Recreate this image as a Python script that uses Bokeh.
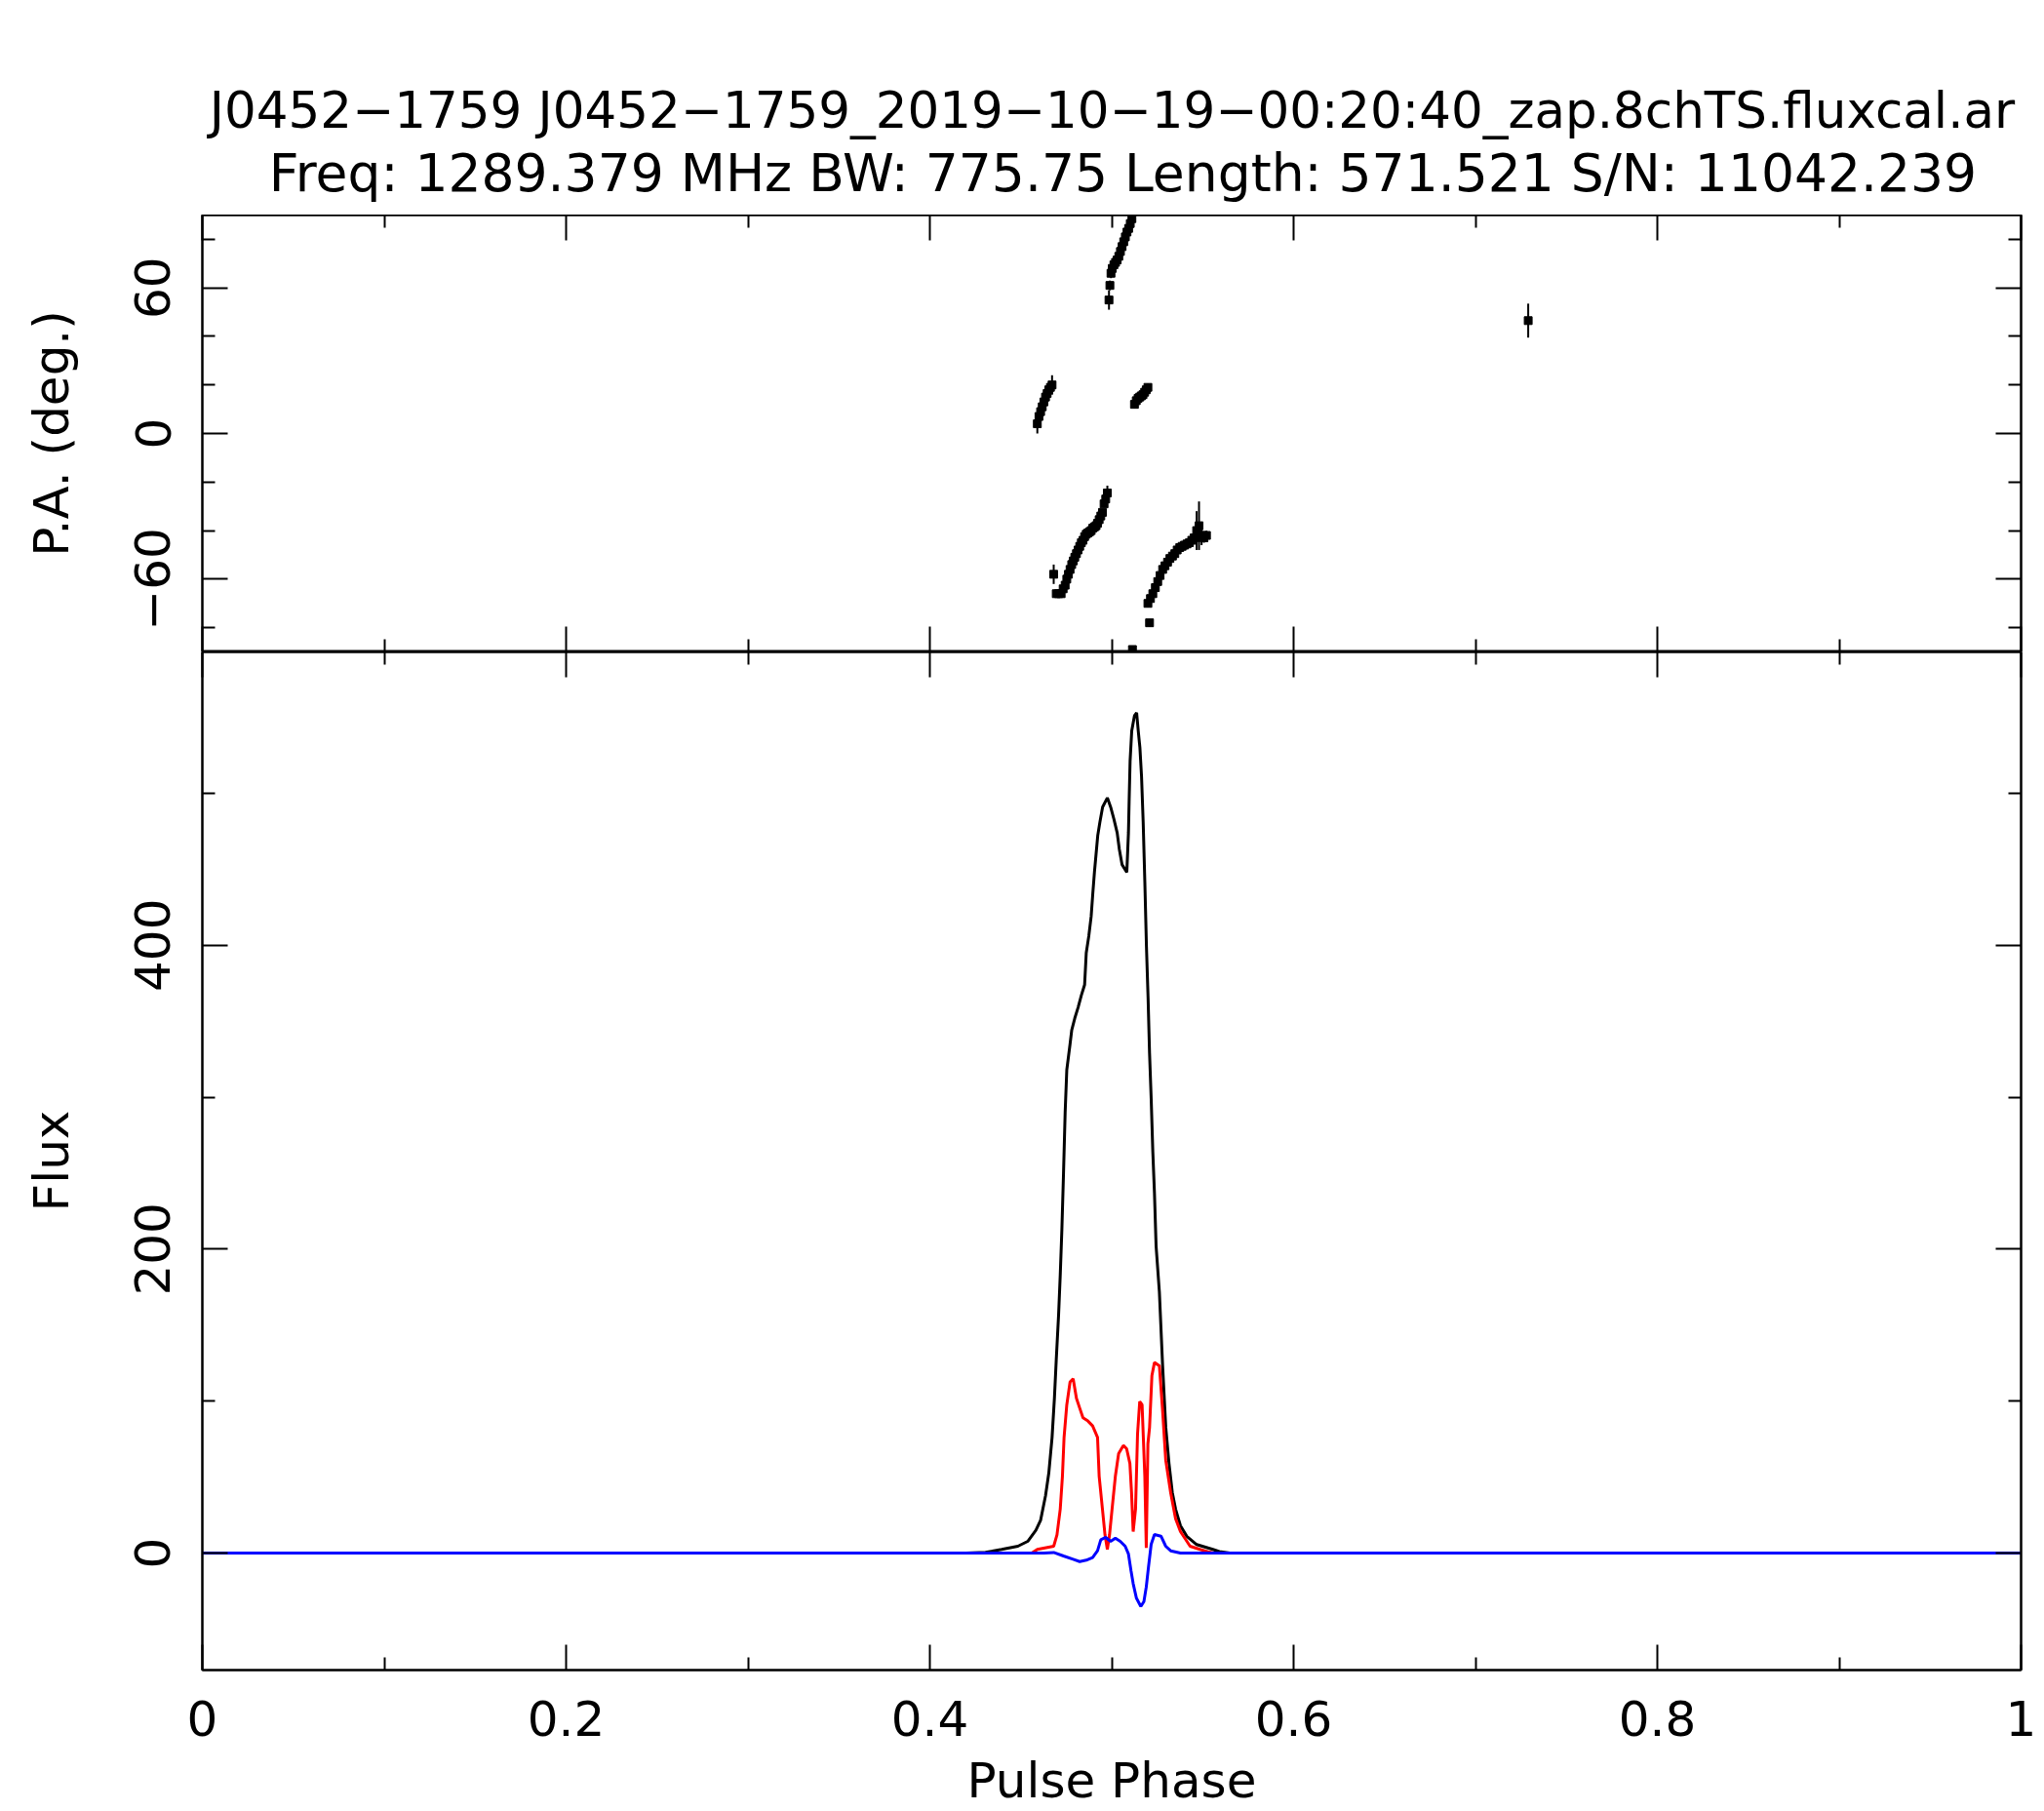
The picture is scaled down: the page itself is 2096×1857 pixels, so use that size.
from bokeh.plotting import figure
from bokeh.layouts import column
from bokeh.models import LinearAxis, FixedTicker, CustomJSTickFormatter, Range1d, ColumnDataSource, Label
from bokeh.embed import file_html
from bokeh.resources import INLINE

FONT = "DejaVu Sans"

# ---------------- data ----------------
title_lines = [
    "J0452\u22121759 J0452\u22121759_2019\u221210\u221219\u221200:20:40_zap.8chTS.fluxcal.ar",
    "Freq: 1289.379 MHz BW: 775.75 Length: 571.521 S/N: 11042.239",
]
x_label = "Pulse Phase"
flux_label = "Flux"
pa_label = "P.A. (deg.)"

x_major = [0, 0.2, 0.4, 0.6, 0.8, 1]
x_minor = [0.1, 0.3, 0.5, 0.7, 0.9]
pa_major = [-60, 0, 60]
pa_minor = [-80, -40, -20, 20, 40, 80]
flux_major = [0, 200, 400]
flux_minor = [100, 300, 500]

# Total intensity (black)
phase_I = [0.0, 0.4200, 0.4306, 0.4395, 0.4484, 0.4538, 0.4583, 0.4609, 0.4636, 0.4654, 0.4672,
           0.4685, 0.4695, 0.4708, 0.4717, 0.4726, 0.4735, 0.4744, 0.4753, 0.4771, 0.4780,
           0.4797, 0.4815, 0.4833, 0.4851, 0.4860, 0.4874, 0.4887, 0.4896, 0.4905, 0.4914,
           0.4923, 0.4935, 0.4950, 0.4976, 0.4994, 0.5012, 0.5030, 0.5042, 0.5057, 0.5083,
           0.5092, 0.5096, 0.5101, 0.5110, 0.5125, 0.5137, 0.5146, 0.5155, 0.5164, 0.5173,
           0.5182, 0.5191, 0.5200, 0.5208, 0.5217, 0.5226, 0.5235, 0.5244, 0.5262, 0.5280,
           0.5297, 0.5315, 0.5333, 0.5351, 0.5378, 0.5413, 0.5467, 0.5556, 0.5592, 0.5650, 1.0]
flux_I = [0.0, 0.0, 0.5, 2.4, 4.5, 7.7, 15.0, 21.6, 37.7, 52.6, 76.0,
          102.0, 127.0, 157.0, 183.0, 213.0, 250.0, 290.0, 318.0, 335.0, 344.0,
          352.0, 359.0, 367.0, 374.0, 395.0, 406.0, 419.0, 434.0, 448.0, 460.0,
          472.0, 481.0, 491.0, 497.0, 491.0, 483.0, 474.0, 463.0, 453.0, 448.0,
          474.0, 496.0, 521.0, 541.0, 551.0, 553.0, 541.0, 530.0, 511.0, 481.0,
          442.0, 399.0, 365.0, 329.0, 299.0, 264.0, 237.0, 202.0, 172.0, 123.0,
          83.0, 59.0, 40.0, 29.0, 18.0, 11.0, 5.6, 2.4, 1.0, 0.0, 0.0]

# Linear polarisation (red)
phase_L = [0.0, 0.4560, 0.4591, 0.4681, 0.4699, 0.4717, 0.4729, 0.4738, 0.4753, 0.4771, 0.4788,
           0.4806, 0.4824, 0.4842, 0.4869, 0.4895, 0.4922, 0.4931, 0.4949, 0.4963, 0.4976,
           0.4988, 0.5002, 0.5020, 0.5038, 0.5064, 0.5082, 0.5100, 0.5109, 0.5118, 0.5131,
           0.5142, 0.5154, 0.5167, 0.5182, 0.5190, 0.5199, 0.5208, 0.5221, 0.5235, 0.5262,
           0.5280, 0.5297, 0.5324, 0.5351, 0.5378, 0.5431, 0.5485, 0.5538, 0.5560, 1.0]
flux_L = [0.0, 0.0, 2.4, 4.5, 12.0, 29.0, 50.5, 76.2, 97.6, 112.6, 114.7,
          101.9, 95.4, 89.0, 86.9, 83.7, 76.2, 50.5, 29.0, 12.0, 2.4,
          12.0, 29.0, 50.5, 65.5, 70.8, 68.7, 59.0, 39.8, 14.1, 29.0,
          78.3, 99.7, 97.6, 50.5, 3.4, 71.9, 82.6, 116.8, 125.4, 123.3,
          93.3, 61.2, 39.8, 22.7, 14.1, 4.5, 2.4, 0.6, 0.0, 0.0]

# Circular polarisation (blue)
phase_V = [0.0, 0.4627, 0.4681, 0.4735, 0.4788, 0.4824, 0.4860, 0.4895, 0.4922, 0.4940,
           0.4967, 0.4994, 0.5020, 0.5047, 0.5074, 0.5092, 0.5106, 0.5118, 0.5136, 0.5160,
           0.5177, 0.5190, 0.5202, 0.5217, 0.5235, 0.5271, 0.5297, 0.5324, 0.5378, 1.0]
flux_V = [0.0, 0.0, 0.4, -1.9, -4.1, -5.6, -4.7, -3.0, 1.5, 8.8,
          10.3, 7.7, 9.8, 7.7, 4.5, -0.6, -11.6, -20.1, -29.7, -35.1,
          -31.9, -22.3, -9.4, 5.8, 12.2, 11.1, 4.5, 1.5, 0.0, 0.0]

# Position angle points
phase_PA = [0.4985, 0.4990, 0.4996, 0.5003, 0.5012, 0.5021, 0.5030, 0.5039, 0.5048, 0.5057,
            0.5066, 0.5075, 0.5084, 0.5093, 0.5102, 0.5111,
            0.4591, 0.4600, 0.4609, 0.4618, 0.4627, 0.4636, 0.4645, 0.4654, 0.4663, 0.4672,
            0.5125, 0.5135, 0.5145, 0.5154, 0.5163, 0.5172, 0.5181, 0.5190, 0.5199,
            0.4681, 0.4695, 0.4708, 0.4722, 0.4733, 0.4744, 0.4753, 0.4762, 0.4771, 0.4780,
            0.4789, 0.4797, 0.4806, 0.4815, 0.4824, 0.4833, 0.4842, 0.4851, 0.4860, 0.4869,
            0.4878, 0.4887, 0.4896, 0.4905, 0.4914, 0.4922, 0.4931, 0.4940, 0.4949, 0.4958,
            0.4967, 0.4976,
            0.5114, 0.5208, 0.5199, 0.5213, 0.5226, 0.5240, 0.5253, 0.5266, 0.5280, 0.5293,
            0.5307, 0.5320, 0.5334, 0.5347, 0.5360, 0.5374, 0.5387, 0.5400, 0.5414, 0.5427,
            0.5440, 0.5453, 0.5467, 0.5480, 0.5494, 0.5507, 0.5521,
            0.7290]
pa_deg = [55.0, 61.0, 66.0, 68.0, 69.5, 70.5, 71.5, 73.0, 75.0, 77.0,
          79.0, 81.0, 83.0, 84.5, 86.5, 88.5,
          4.0, 7.0, 9.0, 11.0, 13.0, 15.0, 16.5, 18.0, 19.0, 20.0,
          12.0, 13.5, 14.5, 15.0, 15.5, 16.0, 17.0, 18.0, 19.0,
          -58.0, -66.0, -66.0, -66.0, -64.0, -62.5, -60.0, -58.0, -56.0, -54.0,
          -52.5, -51.0, -49.5, -48.0, -46.5, -45.0, -44.0, -42.5, -41.5, -41.0,
          -40.5, -40.0, -39.0, -38.5, -38.0, -37.0, -35.5, -34.0, -32.5, -29.0,
          -27.0, -24.5,
          -89.0, -78.0, -70.0, -68.0, -66.0, -63.5, -61.0, -58.5, -56.0, -54.5,
          -53.0, -51.5, -50.5, -49.5, -48.0, -47.0, -46.5, -46.0, -45.5, -45.0,
          -44.0, -43.0, -40.0, -38.0, -42.0, -43.0, -42.0,
          46.5]
pa_err = [4.0, 2.0, 2.0, 1.5, 1.5, 1.5, 1.5, 1.5, 1.5, 1.5,
          1.5, 1.5, 1.5, 1.5, 1.5, 1.5,
          4.0, 2.5, 2.0, 2.0, 2.0, 2.0, 2.0, 2.0, 2.0, 4.0,
          1.5, 1.5, 1.5, 1.5, 1.5, 1.5, 1.5, 1.5, 1.5,
          4.0, 1.5, 1.5, 1.5, 1.5, 1.5, 1.5, 1.5, 1.5, 1.5,
          1.5, 1.5, 1.5, 1.5, 1.5, 1.5, 1.5, 1.5, 1.5, 1.5,
          1.5, 1.5, 1.5, 1.5, 1.5, 1.5, 1.5, 1.5, 1.5, 1.5,
          1.5, 3.0,
          1.5, 1.5, 1.5, 1.5, 1.5, 1.5, 1.5, 1.5, 1.5, 1.5,
          1.5, 1.5, 1.5, 1.5, 1.5, 1.5, 1.5, 1.5, 1.5, 1.5,
          1.5, 2.0, 8.0, 10.0, 4.0, 2.0, 2.0,
          7.0]

# ---------------- layout constants ----------------
LEFT, RIGHT = 207, 24
FRAME_W = 1865
PA_H = 448
FLUX_H = 1044
TOP_H = 220
BOTTOM_H = 145
TICK_FONT = "50px"
FLUX_RANGE = (-77, 593)
PA_RANGE = (-90, 90)

src_pa = ColumnDataSource(dict(x=phase_PA, y=pa_deg,
                               lo=[a - e for a, e in zip(pa_deg, pa_err)],
                               hi=[a + e for a, e in zip(pa_deg, pa_err)]))

blank_fmt_code = "return ''"
num_fmt_code = "return tick < 0 ? '\\u2212' + String(-tick) : String(tick);"


def add_axis(p, side, major, minor, labels, standoff=20, vertical=False,
             axis_label=None, label_standoff=10):
    ax = LinearAxis(ticker=FixedTicker(ticks=major, minor_ticks=minor))
    ax.major_tick_in = 26
    ax.major_tick_out = 0
    ax.minor_tick_in = 13
    ax.minor_tick_out = 0
    ax.major_tick_line_color = "black"
    ax.minor_tick_line_color = "black"
    ax.major_tick_line_width = 2
    ax.minor_tick_line_width = 2
    ax.axis_line_color = "black"
    ax.axis_line_width = 2
    if labels:
        ax.formatter = CustomJSTickFormatter(code=num_fmt_code)
        ax.major_label_text_font = FONT
        ax.major_label_text_font_size = TICK_FONT
        ax.major_label_text_color = "black"
        ax.major_label_standoff = standoff
        if vertical:
            ax.major_label_orientation = "vertical"
        if axis_label:
            ax.axis_label = axis_label
            ax.axis_label_text_font = FONT
            ax.axis_label_text_font_size = TICK_FONT
            ax.axis_label_text_font_style = "normal"
            ax.axis_label_text_color = "black"
            ax.axis_label_standoff = label_standoff
    else:
        ax.formatter = CustomJSTickFormatter(code=blank_fmt_code)
        ax.major_label_text_font_size = "0px"
        ax.major_label_standoff = 0
    p.add_layout(ax, side)
    return ax


def px_to_phase(px):
    return (px - LEFT) / FRAME_W


# ---------------- title strip ----------------
pt = figure(width=LEFT + FRAME_W + RIGHT, height=TOP_H, x_range=Range1d(0, 1),
            y_range=Range1d(TOP_H, 0), x_axis_type=None, y_axis_type=None,
            toolbar_location=None, output_backend="svg",
            min_border_left=LEFT, min_border_right=RIGHT, min_border_top=0, min_border_bottom=0)
pt.outline_line_color = None
pt.add_layout(Label(x=px_to_phase(1140), y=112, text=title_lines[0], text_font=FONT,
                    text_font_size="51.5px", text_color="black", text_align="center",
                    text_baseline="middle"))
pt.add_layout(Label(x=px_to_phase(1151), y=177, text=title_lines[1], text_font=FONT,
                    text_font_size="53.5px", text_color="black", text_align="center",
                    text_baseline="middle"))

# ---------------- PA panel ----------------
pa = figure(frame_width=FRAME_W, frame_height=PA_H, x_range=Range1d(0, 1), y_range=Range1d(*PA_RANGE),
            x_axis_type=None, y_axis_type=None, toolbar_location=None, output_backend="svg",
            min_border_left=LEFT, min_border_right=RIGHT, min_border_top=0, min_border_bottom=0)
pa.outline_line_color = "black"
pa.outline_line_width = 2
add_axis(pa, "left", pa_major, pa_minor, True, standoff=33, vertical=True,
         axis_label=pa_label, label_standoff=54)
add_axis(pa, "right", pa_major, pa_minor, False)
add_axis(pa, "above", x_major, x_minor, False)
add_axis(pa, "below", x_major, x_minor, False)
pa.segment(x0="x", y0="lo", x1="x", y1="hi", source=src_pa, line_color="black", line_width=2)
pa.scatter(x="x", y="y", source=src_pa, marker="square", size=8, color="black")

# ---------------- Flux panel ----------------
fl = figure(frame_width=FRAME_W, frame_height=FLUX_H, x_range=Range1d(0, 1), y_range=Range1d(*FLUX_RANGE),
            x_axis_type=None, y_axis_type=None, toolbar_location=None, output_backend="svg",
            min_border_left=LEFT, min_border_right=RIGHT, min_border_top=0, min_border_bottom=BOTTOM_H)
fl.outline_line_color = "black"
fl.outline_line_width = 2
add_axis(fl, "left", flux_major, flux_minor, True, standoff=33, vertical=True,
         axis_label=flux_label, label_standoff=54)
add_axis(fl, "right", flux_major, flux_minor, False)
add_axis(fl, "above", x_major, x_minor, False)
add_axis(fl, "below", x_major, x_minor, True, standoff=31,
         axis_label=x_label, label_standoff=14)

fl.line(phase_I, flux_I, line_color="black", line_width=3)
fl.line(phase_L, flux_L, line_color="red", line_width=3)
fl.line(phase_V, flux_V, line_color="blue", line_width=3)

layout = column(pt, pa, fl, spacing=0)
open("out.html", "w").write(file_html(layout, INLINE))
